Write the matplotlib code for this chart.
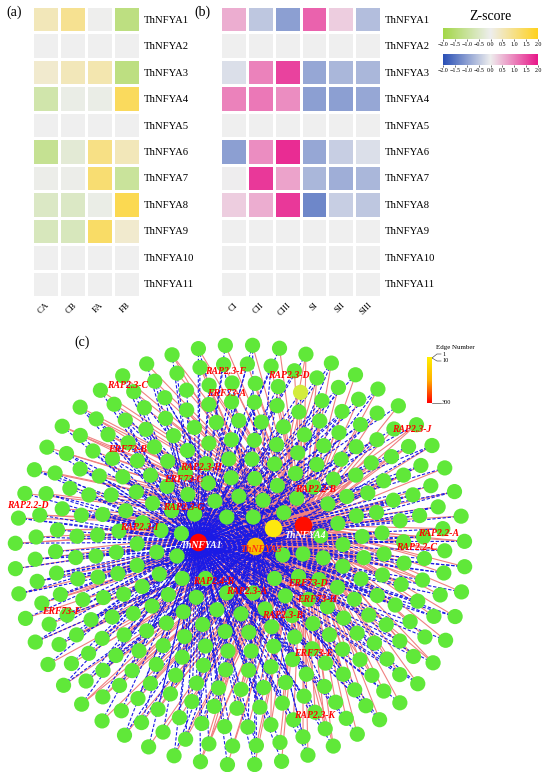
import numpy as np
import matplotlib
matplotlib.use("Agg")
import matplotlib.pyplot as plt
from matplotlib.colors import LinearSegmentedColormap, LogNorm
from matplotlib.collections import LineCollection

plt.rcParams['font.family'] = ['Liberation Serif', 'DejaVu Serif']

# ---------------- data ----------------
genes = [f"ThNFYA{i}" for i in range(1, 12)]
cols_a = ["CA", "CB", "FA", "FB"]
cols_b = ["CI", "CII", "CIII", "SI", "SII", "SIII"]
nan = np.nan
z_a = [
    [0.5, 0.9, 0.0, -1.3],
    [nan, nan, nan, nan],
    [0.3, 0.5, 0.6, -1.3],
    [-0.8, -0.1, -0.1, 1.4],
    [nan, nan, nan, nan],
    [-1.1, -0.3, 1.0, 0.5],
    [-0.05, -0.05, 1.2, -1.0],
    [-0.5, -0.5, -0.1, 1.5],
    [-0.6, -0.6, 1.3, 0.3],
    [nan, nan, nan, nan],
    [nan, nan, nan, nan],
]
z_b = [
    [0.6, -0.5, -1.0, 1.3, 0.3, -0.6],
    [nan] * 6,
    [-0.2, 1.0, 1.6, -0.9, -0.7, -0.7],
    [1.0, 1.1, 0.9, -1.0, -1.0, -0.9],
    [nan] * 6,
    [-1.0, 0.9, 1.8, -0.9, -0.4, -0.2],
    [0.0, 1.7, 0.7, -0.7, -0.8, -0.7],
    [0.3, 0.6, 1.7, -1.3, -0.4, -0.5],
    [nan] * 6,
    [nan] * 6,
    [nan] * 6,
]
zticks = [-2.0, -1.5, -1.0, -0.5, 0.0, 0.5, 1.0, 1.5, 2.0]

# network data
hub_names = ["ThNFYA1", "ThNFYA3", "ThNFYA7", "ThNFYA4"]
hub_edges = [300, 40, 15, 260]
hub_label_shown = [True, True, False, True]
ring_counts = [10, 16, 22, 28, 34, 40, 45, 50, 54, 52]
leaf_edge_number = 2
special_leaf_edges = 6
link_base = [("ThNFYA1", "dash"), ("ThNFYA4", "solid")]
link_extra = [("ThNFYA3", "dash"), ("ThNFYA7", "solid"), None, ("ThNFYA3", "dash"), None]
gene_labels = ["RAP2.3-C", "RAP2.3-F", "ERF73-A", "RAP2.3-D", "RAP2.3-J", "ERF73-B",
               "RAP2.3-H", "ERF73-C", "RAP2.3-G", "RAP2.2-D", "RAP2.3-I", "RAP2.2-B",
               "RAP2.2-A", "RAP2.2-C", "RAP2.4-B", "RAP2.3-A", "ERF73-D", "ERF73-H",
               "RAP2.3-B", "ERF73-F", "ERF73-E", "RAP2.3-K"]

# ---------------- layout (pixels) ----------------
W, H = 550, 772
fig = plt.figure(figsize=(W / 100, H / 100), dpi=100)

def fr(x0, y0, x1, y1):
    return [x0 / W, 1 - y1 / H, (x1 - x0) / W, (y1 - y0) / H]

cmap_a = LinearSegmentedColormap.from_list("ga", ["#A3D748", "#EEEEEE", "#FFD21F"]).with_extremes(bad="#EFEFEF")
cmap_b = LinearSegmentedColormap.from_list("bm", ["#2A50B6", "#EEEEEE", "#E8188A"]).with_extremes(bad="#EFEFEF")

# ---------------- network ----------------
axn = fig.add_axes([0, 0, 1, 1])
axn.set_xlim(0, W)
axn.set_ylim(H, 0)
axn.axis("off")

hub_pos = {"ThNFYA1": (198, 542), "ThNFYA3": (255, 546), "ThNFYA7": (273, 528), "ThNFYA4": (303, 525)}
cx, cy, rx, ry = 240, 555, 225, 210
fracs = np.linspace(0.19, 1.0, len(ring_counts))
leaves = []
for k, (n, f) in enumerate(zip(ring_counts, fracs)):
    off = 0.41 * k
    for j in range(n):
        a = off + 2 * np.pi * j / n
        x = cx + rx * f * np.cos(a)
        y = cy - ry * f * np.sin(a)
        if min(np.hypot(x - hx, y - hy) for hx, hy in hub_pos.values()) < 18:
            continue
        leaves.append((x, y))
leaves = np.array(leaves)

red_segs, blue_segs = [], []
for i, (x, y) in enumerate(leaves):
    links = list(link_base)
    ex = link_extra[i % len(link_extra)]
    if ex is not None:
        links.append(ex)
    for h, style in links:
        hx, hy = hub_pos[h]
        (blue_segs if style == "dash" else red_segs).append([(x, y), (hx, hy)])

axn.add_collection(LineCollection(red_segs, colors="#F08080", linewidths=0.8, zorder=2))
axn.add_collection(LineCollection(blue_segs, colors="#1A1AE6", linewidths=0.8,
                                  linestyles=(0, (3, 1.6)), zorder=2.1))

cmap_e = LinearSegmentedColormap.from_list(
    "edge", [(0, "#5DE838"), (0.18, "#62E83A"), (0.32, "#D8EC3C"), (0.45, "#FFEE10"),
             (0.65, "#F8C000"), (1.0, "#FF0000")])
norm_e = LogNorm(1, 300)
leaf_colors = [cmap_e(norm_e(leaf_edge_number))] * len(leaves)
spec = np.argmin(np.hypot(leaves[:, 0] - 303, leaves[:, 1] - 393))
leaf_colors[spec] = cmap_e(norm_e(special_leaf_edges))
axn.scatter(leaves[:, 0], leaves[:, 1], s=120, c=leaf_colors, linewidths=0, zorder=3)

for name, ne, show in zip(hub_names, hub_edges, hub_label_shown):
    hx, hy = hub_pos[name]
    axn.scatter([hx], [hy], s=160, color=cmap_e(norm_e(ne)), linewidths=0, zorder=4)

hub_lab = {"ThNFYA1": ((180, 545), "white"), "ThNFYA3": ((240, 549), "#FF3010"),
           "ThNFYA4": ((284, 535), "white")}
for name, show in zip(hub_names, hub_label_shown):
    if show:
        (tx, ty), c = hub_lab[name]
        axn.text(tx, ty, name, color=c, fontsize=7, style="italic", fontweight="bold",
                 va="center", ha="left", zorder=6)

label_pos = [(107, 386), (205, 372), (207, 393), (268, 375), (392, 429), (108, 449),
             (180, 468), (164, 480), (163, 507), (7, 505), (120, 527), (295, 490),
             (418, 533), (396, 547), (193, 581), (226, 592), (288, 584), (297, 600),
             (262, 615), (42, 612), (294, 653), (294, 716)]
for name, (tx, ty) in zip(gene_labels, label_pos):
    axn.text(tx, ty, name, color="#FF0000", fontsize=7, style="italic", fontweight="bold",
             va="center", ha="left", zorder=6)

axn.text(82, 342, "(c)", fontsize=10, va="center", ha="center")

# Edge number legend
axl = fig.add_axes(fr(427, 357, 432, 403))
axl.imshow(np.linspace(0, 1, 100).reshape(-1, 1), aspect="auto",
           cmap=LinearSegmentedColormap.from_list("yl", ["#FFF000", "#FFB000", "#FF0000"]))
axl.set_xticks([]); axl.set_yticks([])
for s in axl.spines.values():
    s.set_visible(False)
axn.text(455, 347, "Edge Number", fontsize=5, ha="center", va="center")
axn.plot([432, 437, 441], [358, 354, 354], color="#555555", lw=0.5)
axn.plot([432, 437, 441], [358, 361, 361], color="#555555", lw=0.5)
axn.plot([432, 441], [403, 403], color="#555555", lw=0.5)
axn.text(442, 354, "1", fontsize=4.5, va="center")
axn.text(442, 361, "10", fontsize=4.5, va="center")
axn.text(442, 403, "300", fontsize=4.5, va="center")

# ---------------- heatmaps ----------------
def heat(rect, data, cols, cmap, label, lx):
    ax = fig.add_axes(rect)
    d = np.ma.masked_invalid(np.array(data, dtype=float))
    ax.pcolormesh(d, cmap=cmap, vmin=-2, vmax=2, edgecolors="white", linewidth=0.8)
    ax.set_xlim(0, len(cols)); ax.set_ylim(len(genes), 0)
    ax.yaxis.tick_right()
    ax.set_yticks(np.arange(len(genes)) + 0.5, genes, fontsize=7.7)
    ax.set_xticks(np.arange(len(cols)) + 0.5, cols, fontsize=6.5, rotation=45,
                  ha="right", va="top", rotation_mode="anchor")
    ax.tick_params(length=0, pad=3)
    for s in ax.spines.values():
        s.set_visible(False)
    fig.text(lx / W, 1 - 12 / H, label, fontsize=10, ha="center", va="center")
    return ax

heat(fr(32, 6, 140, 297), z_a, cols_a, cmap_a, "(a)", 14)
heat(fr(220, 6, 381, 297), z_b, cols_b, cmap_b, "(b)", 202)

# Z-score colorbars
fig.text(490 / W, 1 - 17 / H, "Z-score", fontsize=10, ha="center", va="center")
for (y0, y1), cm in zip([(28, 39), (54, 65)], [cmap_a, cmap_b]):
    axc = fig.add_axes(fr(443, y0, 538, y1))
    axc.imshow(np.linspace(-2, 2, 200).reshape(1, -1), aspect="auto", cmap=cm,
               extent=[-2, 2, 0, 1], vmin=-2, vmax=2)
    axc.set_yticks([])
    axc.set_xticks(zticks, [f"{t:.1f}".replace("-", "\u2212") for t in zticks], fontsize=4.3)
    axc.tick_params(axis="x", length=1.5, width=0.4, pad=0.8)
    for s in axc.spines.values():
        s.set_visible(False)

fig.savefig("out.png", dpi=100)
